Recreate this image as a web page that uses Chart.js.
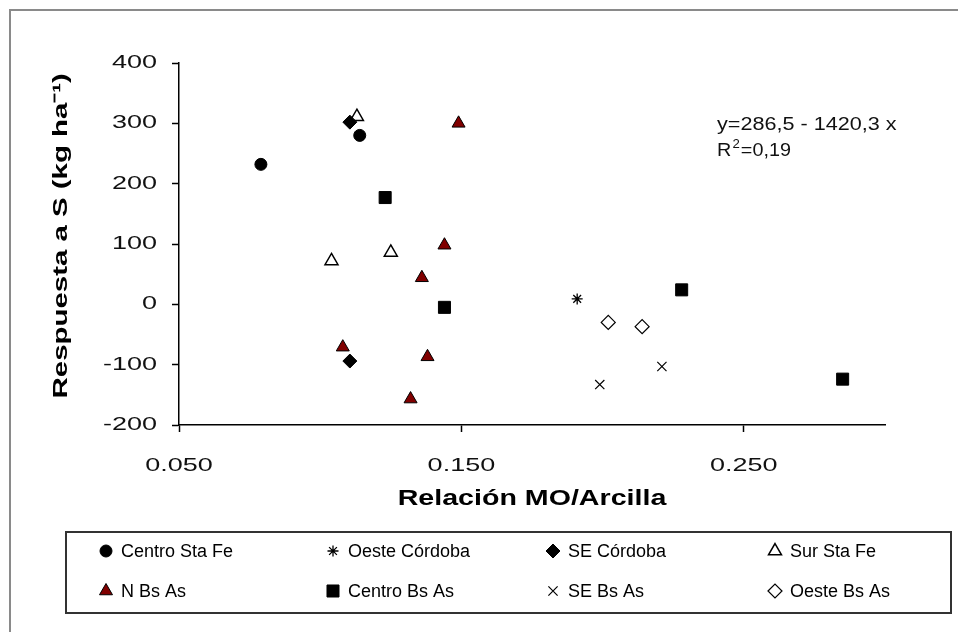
<!DOCTYPE html>
<html>
<head>
<meta charset="utf-8">
<script src="https://cdn.jsdelivr.net/npm/chart.js@4"></script>
<style>
  html, body { margin: 0; padding: 0; background: #fff; }
  canvas { display: block; }
</style>
</head>
<body>
<canvas id="chart" width="958" height="632"></canvas>
<script>
// Respuesta a S vs relación MO/Arcilla
const seriesNames = ['Centro Sta Fe', 'Oeste Córdoba', 'SE Córdoba', 'Sur Sta Fe',
                     'N Bs As', 'Centro Bs As', 'SE Bs As', 'Oeste Bs As'];

const centroStaFeX = [0.079, 0.114];
const centroStaFeY = [232, 280];
const oesteCordobaX = [0.191];
const oesteCordobaY = [9];
const seCordobaX = [0.1105, 0.1105];
const seCordobaY = [302, -94];
const surStaFeX = [0.113, 0.104, 0.125];
const surStaFeY = [311, 72, 86];
const nBsAsX = [0.149, 0.144, 0.136, 0.108, 0.138, 0.132];
const nBsAsY = [300, 98, 44, -71, -87, -157];
const centroBsAsX = [0.123, 0.144, 0.228, 0.285];
const centroBsAsY = [177, -5, 24, -124];
const seBsAsX = [0.221, 0.199];
const seBsAsY = [-103, -133];
const oesteBsAsX = [0.202, 0.214];
const oesteBsAsY = [-30, -37];

const xTicks = [0.05, 0.15, 0.25];
const yTicks = [-200, -100, 0, 100, 200, 300, 400];
const eqLine1 = 'y=286,5 - 1420,3 x';
const eqLine2 = ['R', '2', '=0,19'];

const FONT = "'Liberation Sans', Arial, sans-serif";

function pts(xs, ys) {
  return xs.map((x, i) => ({ x, y: ys[i] }));
}

// marker looks per series
const looks = [
  { pointStyle: 'circle',   radius: 6,   bg: '#000',    border: '#000', bw: 1 },
  { pointStyle: 'star',     radius: 5.5, bg: '#000',    border: '#000', bw: 1.3 },
  { pointStyle: 'rectRot',  radius: 7,   bg: '#000',    border: '#000', bw: 1 },
  { pointStyle: 'triangle', radius: 7.5, bg: '#fff',    border: '#000', bw: 1.5 },
  { pointStyle: 'triangle', radius: 7.5, bg: '#800000', border: '#000', bw: 1 },
  { pointStyle: 'rect',     radius: 8.5, bg: '#000',    border: '#000', bw: 1 },
  { pointStyle: 'crossRot', radius: 6.5, bg: '#000',    border: '#000', bw: 1.2 },
  { pointStyle: 'rectRot',  radius: 7,   bg: '#fff',    border: '#000', bw: 1.2 },
];

const seriesData = [
  pts(centroStaFeX, centroStaFeY),
  pts(oesteCordobaX, oesteCordobaY),
  pts(seCordobaX, seCordobaY),
  pts(surStaFeX, surStaFeY),
  pts(nBsAsX, nBsAsY),
  pts(centroBsAsX, centroBsAsY),
  pts(seBsAsX, seBsAsY),
  pts(oesteBsAsX, oesteBsAsY),
];

// the original text is drawn wider than Arial; stretch axis text along its baseline
let stretchOn = false;
const baseFillText = CanvasRenderingContext2D.prototype.fillText;
function stretchFor(font) {
  const m = /(\d+(?:\.\d+)?)px/.exec(font);
  if (!m) return 1;
  const size = +m[1];
  const bold = /bold|700/.test(font);
  if (!bold && size === 18) return 1.5;   // tick labels
  if (bold && size === 22) return 1.3;    // x title
  if (bold && size === 21) return 1.4;    // y title
  return 1;
}
CanvasRenderingContext2D.prototype.fillText = function (text, x, y, maxWidth) {
  const k = stretchOn ? stretchFor(this.font) : 1;
  if (k === 1) return baseFillText.call(this, text, x, y);
  this.save();
  this.translate(x, y);
  this.scale(k, 1);
  baseFillText.call(this, text, 0, 0);
  this.restore();
};

const framePlugin = {
  id: 'frame',
  beforeDraw(chart) {
    const ctx = chart.ctx;
    ctx.save();
    ctx.fillStyle = '#fff';
    ctx.fillRect(0, 0, chart.width, chart.height);
    ctx.strokeStyle = '#8a8a8a';
    ctx.lineWidth = 2;
    ctx.beginPath();
    ctx.moveTo(10, chart.height);
    ctx.lineTo(10, 10);
    ctx.lineTo(chart.width, 10);
    ctx.stroke();
    ctx.restore();
    stretchOn = true;
  },
  afterDatasetsDraw() {
    stretchOn = false;
  },
  afterDraw(chart) {
    const ctx = chart.ctx;
    ctx.save();

    // equation text
    ctx.fillStyle = '#111';
    ctx.textBaseline = 'middle';
    ctx.textAlign = 'left';
    ctx.font = '18px ' + FONT;
    ctx.save();
    ctx.translate(717, 125);
    ctx.scale(1.2, 1);
    ctx.fillText(eqLine1, 0, 0);
    ctx.restore();
    ctx.save();
    ctx.translate(717, 151);
    ctx.scale(1.1, 1);
    ctx.fillText(eqLine2[0], 0, 0);
    let w = ctx.measureText(eqLine2[0]).width;
    ctx.font = '12px ' + FONT;
    ctx.fillText(eqLine2[1], w + 1, -6);
    w += ctx.measureText(eqLine2[1]).width + 2;
    ctx.font = '18px ' + FONT;
    ctx.fillText(eqLine2[2], w, 0);
    ctx.restore();

    // legend box
    ctx.strokeStyle = '#333';
    ctx.lineWidth = 2;
    ctx.strokeRect(66, 532, 885, 81);
    const colX = [106, 333, 553, 775];
    const rowY = [551, 591];
    chart.data.datasets.forEach((ds, i) => {
      const mx = colX[i % 4];
      const my = rowY[Math.floor(i / 4)];
      ctx.fillStyle = ds.backgroundColor;
      ctx.strokeStyle = ds.borderColor;
      ctx.lineWidth = ds.borderWidth;
      Chart.helpers.drawPoint(ctx, {
        pointStyle: ds.pointStyle,
        radius: ds.pointRadius,
        rotation: 0,
        borderWidth: ds.borderWidth,
      }, mx, my);
      ctx.fillStyle = '#000';
      ctx.font = '18px ' + FONT;
      ctx.textAlign = 'left';
      ctx.textBaseline = 'middle';
      ctx.fillText(ds.label, mx + 15, my + 1);
    });
    ctx.restore();
  },
};

new Chart(document.getElementById('chart'), {
  type: 'scatter',
  data: {
    datasets: seriesData.map((d, i) => ({
      label: seriesNames[i],
      data: d,
      pointStyle: looks[i].pointStyle,
      pointRadius: looks[i].radius,
      pointHoverRadius: looks[i].radius,
      backgroundColor: looks[i].bg,
      borderColor: looks[i].border,
      borderWidth: looks[i].bw,
      showLine: false,
    })),
  },
  options: {
    responsive: false,
    animation: false,
    devicePixelRatio: 1,
    layout: { padding: { left: 0, right: 73, top: 63, bottom: 112 } },
    plugins: {
      legend: { display: false },
      tooltip: { enabled: false },
    },
    scales: {
      x: {
        type: 'linear',
        min: 0.05,
        max: 0.30,
        afterBuildTicks: s => { s.ticks = xTicks.map(v => ({ value: v })); },
        afterFit: s => { s.height = 95; },
        border: { display: true, color: '#000', width: 1.5 },
        grid: { drawOnChartArea: false, drawTicks: true, tickLength: 7, tickColor: '#000', tickWidth: 1.5 },
        ticks: {
          padding: 23,
          color: '#111',
          font: { family: FONT, size: 18 },
          maxRotation: 0,
          callback: v => v.toFixed(3),
        },
        title: {
          display: true,
          text: 'Relación MO/Arcilla',
          color: '#000',
          font: { family: FONT, size: 22, weight: 'bold' },
          padding: { top: 0, bottom: 8 },
        },
      },
      y: {
        type: 'linear',
        min: -200,
        max: 400,
        afterBuildTicks: s => { s.ticks = yTicks.map(v => ({ value: v })); },
        afterFit: s => { s.width = 179; },
        border: { display: true, color: '#000', width: 1.5 },
        grid: { drawOnChartArea: false, drawTicks: true, tickLength: 7, tickColor: '#000', tickWidth: 1.5 },
        ticks: {
          padding: 15,
          color: '#111',
          font: { family: FONT, size: 18 },
          callback: v => String(v),
        },
        title: {
          display: true,
          text: '\u00a0\u00a0Respuesta a S (kg ha\u207b\u00b9)',
          color: '#000',
          font: { family: FONT, size: 21, weight: 'bold' },
          padding: { top: 49, bottom: 0 },
        },
      },
    },
  },
  plugins: [framePlugin],
});
</script>
</body>
</html>
